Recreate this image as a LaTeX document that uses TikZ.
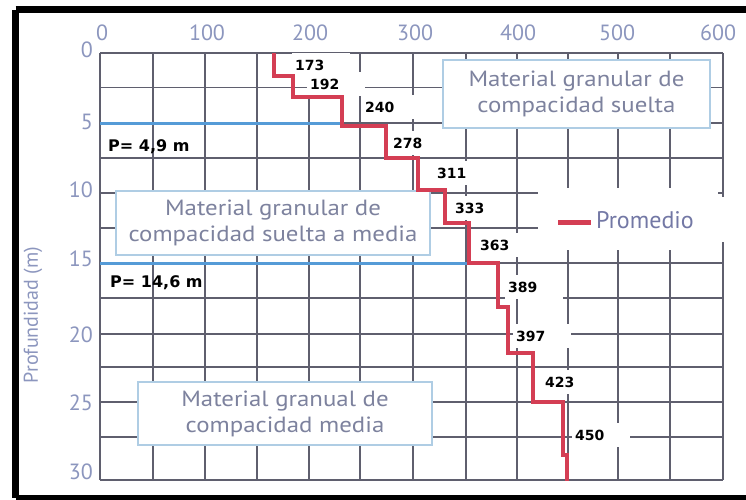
\documentclass[tikz,border=0pt]{standalone}
\usepackage{fontspec}
\setmainfont{PT Sans}
\newfontfamily\dvs{DejaVu Sans}
\newfontfamily\boxf{PT Sans}[FakeStretch=1.13]
\definecolor{axc}{RGB}{140,150,190}
\definecolor{boxt}{RGB}{125,130,158}
\definecolor{boxb}{RGB}{175,205,228}
\definecolor{gridc}{RGB}{95,95,110}
\definecolor{redc}{RGB}{212,62,84}
\definecolor{bluec}{RGB}{85,155,215}
\definecolor{legt}{RGB}{115,120,165}
\begin{document}
\begin{tikzpicture}[x=1pt,y=-1pt,
  gridl/.style={gridc,line width=1.2},
  matbox/.style={draw=boxb,line width=1.5,fill=white,text=boxt,align=center,
    font=\boxf\fontsize{22}{26}\selectfont,inner sep=0pt},
  numl/.style={anchor=west,fill=white,inner xsep=3pt,inner ysep=0pt,text width=52pt,
    align=left,minimum height=24pt,font=\dvs\bfseries\fontsize{14}{15}\selectfont,text=black},
  plab/.style={anchor=west,inner sep=0pt,font=\dvs\bfseries\fontsize{16}{18}\selectfont,text=black},
  xtick/.style={inner sep=0pt,text=axc,font=\fontsize{22}{24}\selectfont},
  ytick/.style={inner sep=0pt,anchor=east,text=axc,font=\fontsize{22}{24}\selectfont},
  redl/.style={redc,line width=4.5},
  bluel/.style={bluec,line width=3}]
\useasboundingbox (0,0) rectangle (746,499);
\fill[white] (0,0) rectangle (746,499);
% outer frame
\draw[black,line width=7.5] (15.5,9.5) -- (760,9.5);
\draw[black,line width=7.5] (15.5,9.5) -- (15.5,498);
\draw[black,line width=7] (15.5,498) -- (760,498);
% grid
\foreach \x in {100,153,205,257,309,360,413,466,517,568,618,670,723}
  \draw[gridl] (\x,53) -- (\x,480);
\foreach \y in {53,87.5,123,158,193,228,263,298,334,367,402,437,480}
  \draw[gridl] (100,\y) -- (723,\y);
% legend clearing
\fill[white] (538,188) rectangle (718,250);
\fill[white] (718,197) rectangle (726,242);
% axis labels
\node[xtick] (x0) at (102,33) {0};
\node[xtick] (x100) at (207,33) {100};
\node[xtick] (x200) at (310,33) {200};
\node[xtick] (x300) at (415,33) {300};
\node[xtick] (x400) at (518,33) {400};
\node[xtick] (x500) at (617,33) {500};
\node[xtick] (x600) at (718,33) {600};
\node[ytick] (y0) at (93,50) {0};
\node[ytick] (y5) at (93,122) {5};
\node[ytick] (y10) at (93,190) {10};
\node[ytick] (y15) at (93,259) {15};
\node[ytick] (y20) at (93,335) {20};
\node[ytick] (y25) at (93,403) {25};
\node[ytick] (y30) at (93,472) {30};
\node[rotate=90,text=axc,inner sep=0pt,font=\fontsize{20}{22}\selectfont] (ylab) at (33,315) {Profundidad (m)};
% value labels
\node[numl] (l173) at (292,65) {173};
\node[numl] (l192) at (307,84) {192};
\node[numl] (l240) at (362,107) {240};
\node[numl] (l278) at (390,143) {278};
\node[numl] (l311) at (434,173) {311};
\node[numl] (l333) at (452,208) {333};
\node[numl] (l363) at (477,245) {363};
\node[numl] (l389) at (505,287) {389};
\node[numl] (l397) at (513,336) {397};
\node[numl] (l423) at (542,382) {423};
\node[numl] (l450) at (572,435) {450};
% material boxes
\node[matbox,minimum width=267pt,minimum height=68pt] (b1) at (576.5,94) {Material granular de\\compacidad suelta};
\node[matbox,minimum width=314pt,minimum height=64pt] (b2) at (273,223) {Material granular de\\compacidad suelta a media};
\node[matbox,minimum width=294pt,minimum height=63pt] (b3) at (285,413.5) {Material granual de\\compacidad media};
% water table lines
\draw[bluel] (100,123) -- (342,123);
\draw[bluel] (100,263) -- (469,263);
\node[plab] (p1) at (108,147) {P= 4,9 m};
\node[plab] (p2) at (110,283) {P= 14,6 m};
% average profile
\draw[redl,line join=miter] (274,53) -- (274,76) -- (293,76) -- (293,97) -- (342,97) -- (342,126)
  -- (386,126) -- (386,158) -- (418,158) -- (418,190) -- (445,190) -- (445,223)
  -- (469,223) -- (469,263) -- (498,263) -- (498,307) -- (508,307) -- (508,353)
  -- (533,353) -- (533,402) -- (563,402) -- (563,455) -- (567,455) -- (567,481);
% legend
\coordinate (lg1) at (558,222);
\coordinate (lg2) at (591,222);
\draw[redl,line width=5] (lg1) -- (lg2);
\node[anchor=west,inner sep=0pt,text=legt,font=\fontsize{24}{26}\selectfont] (leg) at (596,220) {Promedio};
\end{tikzpicture}
\end{document}
